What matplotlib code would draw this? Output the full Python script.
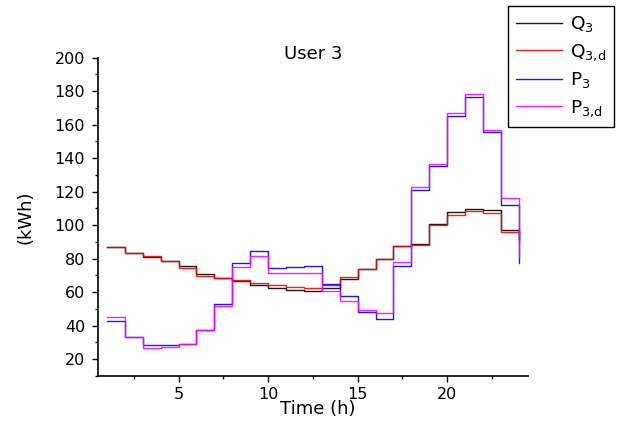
import matplotlib
matplotlib.use("Agg")
import matplotlib.pyplot as plt
from matplotlib.ticker import FixedLocator

plt.rcParams['font.family'] = ['DejaVu Sans']
plt.rcParams['mathtext.fontset'] = 'dejavusans'

hours = list(range(1, 25))
Q3 = [87, 83.2, 81.1, 78.8, 75.8, 70.6, 68.7, 66.7, 64.3, 62.5, 61.5, 60.9,
      62.7, 68.1, 73.8, 79.8, 87.3, 88.9, 100.9, 107.8, 109.6, 109.2, 97.3, 92]
Q3d = [87, 83.2, 81.6, 78.8, 74.6, 69.6, 68.7, 67.5, 65.5, 64.1, 62.9, 62.5,
       64.5, 69.1, 73.8, 79.8, 87.3, 88.3, 100.1, 106.2, 108.4, 107.0, 95.7, 90]
P3 = [43.1, 33.5, 28.3, 28.7, 29.1, 37.5, 53.0, 77.4, 84.5, 74.2, 75.0, 75.4,
      65.1, 57.7, 48.0, 44.0, 75.4, 120.7, 135.0, 165.0, 176.3, 155.3, 111.9, 77.2]
P3d = [45.4, 33.1, 27.0, 27.3, 28.9, 37.5, 51.6, 75.0, 81.8, 71.4, 71.4, 71.4,
       60.9, 54.6, 49.6, 47.6, 78.2, 122.5, 136.6, 166.8, 178.1, 156.9, 115.9, 81]

labels = [r'$\mathregular{Q_3}$', r'$\mathregular{Q_{3{,}d}}$',
          r'$\mathregular{P_3}$', r'$\mathregular{P_{3{,}d}}$']
colors = ['black', 'red', 'blue', 'magenta']

fig = plt.figure(figsize=(6.23, 4.23), dpi=100)
ax = fig.add_axes([98/623, 1-376/423, (527.7-98)/623, (376-57.5)/423])

for series, lab, col in zip([Q3, Q3d, P3, P3d], labels, colors):
    ax.step(hours, series, where='post', color=col, lw=1.0, label=lab, alpha=0.9)

ax.set_xlim(0.5, 24.5)
ax.set_ylim(10, 200)
ax.xaxis.set_major_locator(FixedLocator([5, 10, 15, 20]))
ax.xaxis.set_minor_locator(FixedLocator([2.5, 7.5, 12.5, 17.5, 22.5]))
ax.yaxis.set_major_locator(FixedLocator(list(range(20, 201, 20))))
ax.yaxis.set_minor_locator(FixedLocator(list(range(10, 200, 20))))
ax.tick_params(which='major', direction='out', length=4.3, width=1, labelsize=11.5)
ax.tick_params(which='minor', direction='out', length=2.3, width=1)
ax.tick_params(axis='y', which='major', pad=5)
ax.tick_params(axis='x', which='major', pad=3.5)

for s in ['top', 'right']:
    ax.spines[s].set_visible(False)
for s in ['left', 'bottom']:
    ax.spines[s].set_linewidth(1.2)

ax.text(0.5, 0.994, 'User 3', transform=ax.transAxes, ha='center',
        va='baseline', fontsize=13)
ax.set_xlabel('Time (h)', fontsize=13)
ax.xaxis.set_label_coords(0.512, -0.075)
ax.set_ylabel('(kWh)', fontsize=13)
ax.yaxis.set_label_coords(-0.148, 0.5)

leg = fig.legend(loc='upper right', bbox_to_anchor=(614/623, 1-6/423),
                 bbox_transform=fig.transFigure, borderaxespad=0,
                 fancybox=False, edgecolor='black', framealpha=1,
                 fontsize=13.3, handlelength=2.5, labelspacing=0.42,
                 handletextpad=0.4, borderpad=0.45)
leg.get_frame().set_linewidth(1.0)

fig.savefig('out.png', dpi=100)
